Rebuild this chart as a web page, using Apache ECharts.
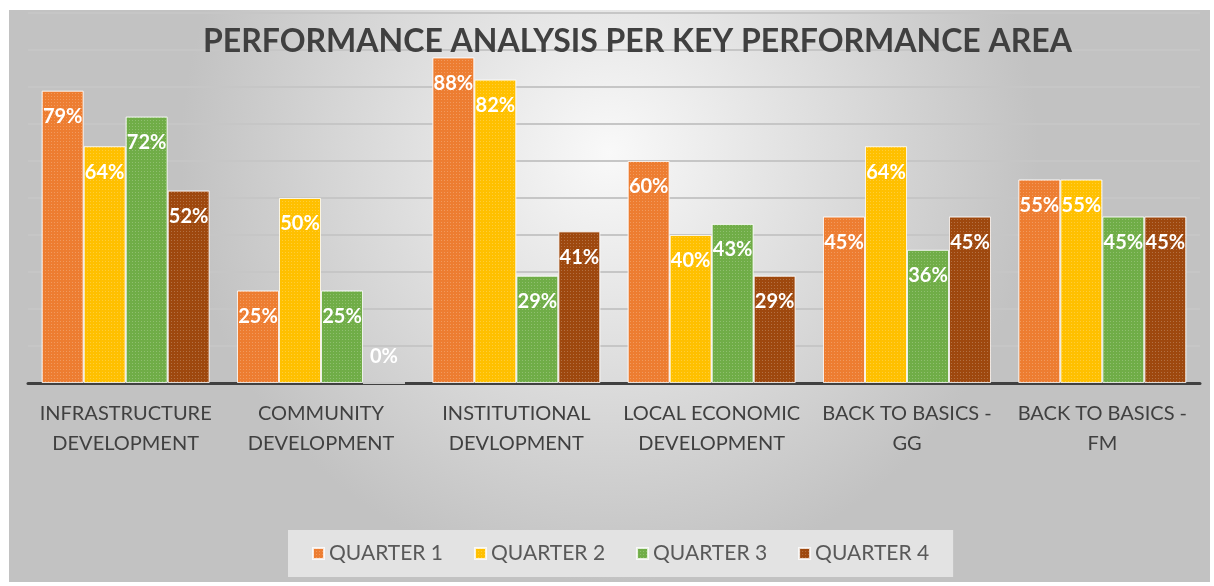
<!DOCTYPE html>
<html>
<head>
<meta charset="utf-8">
<title>Performance Analysis per KPA</title>
<script src="https://cdn.jsdelivr.net/npm/echarts@6/dist/echarts.min.js"></script>
<style>
  html, body { margin: 0; padding: 0; background: #ffffff; }
  #chart { width: 1214px; height: 586px; }
</style>
</head>
<body>
<div id="chart"></div>
<script>
// categories (note: "DEVLOPMENT" spelled as in the source)
const categories = [
    "INFRASTRUCTURE\nDEVELOPMENT",
    "COMMUNITY\nDEVELOPMENT",
    "INSTITUTIONAL\nDEVLOPMENT",
    "LOCAL ECONOMIC\nDEVELOPMENT",
    "BACK TO BASICS -\nGG",
    "BACK TO BASICS -\nFM"
];

const quarter1 = [79, 25, 88, 60, 45, 55];
const quarter2 = [64, 50, 82, 40, 64, 55];
const quarter3 = [72, 25, 29, 43, 36, 45];
const quarter4 = [52, 0, 41, 29, 45, 45];

const seriesNames = ["QUARTER 1", "QUARTER 2", "QUARTER 3", "QUARTER 4"];
const colors = ["#ED7D31", "#FFC000", "#70AD47", "#9E480E"];

const chart = echarts.init(document.getElementById("chart"));

function makeSeries(name, values, color) {
    return {
        name: name,
        type: "bar",
        barGap: "0%",
        barCategoryGap: "14%",
        itemStyle: {
            color: color,
            borderColor: "rgba(255,255,255,0.55)",
            borderWidth: 1,
            decal: {
                symbol: "rect",
                symbolSize: 1,
                color: "rgba(255,255,255,0.22)",
                dashArrayX: [[1, 2]],
                dashArrayY: [1, 2]
            }
        },
        label: {
            show: true,
            position: "insideTop",
            distance: 16,
            color: "#ffffff",
            fontFamily: "Lato",
            fontWeight: "bold",
            fontSize: 20,
            formatter: p => p.value + "%"
        },
        // a zero bar keeps its label sitting above the axis
        data: values.map(v => v === 0
            ? { value: v, label: { position: "top", distance: 16 } }
            : v)
    };
}

chart.setOption({
    textStyle: { fontFamily: "Lato" },
    graphic: [{
        type: "rect",
        z: -10,
        shape: { x: 9, y: 10, width: 1201, height: 572 },
        style: {
            fill: {
                type: "radial",
                x: 0.5, y: 0.25, r: 0.75,
                colorStops: [
                    { offset: 0, color: "#f9f9f9" },
                    { offset: 1, color: "#c2c2c2" }
                ]
            }
        },
        silent: true
    }],
    title: {
        text: "PERFORMANCE ANALYSIS PER KEY PERFORMANCE AREA",
        left: 198,
        top: 21,
        textStyle: {
            fontFamily: "Lato",
            fontWeight: "bold",
            fontSize: 32,
            color: "#404040"
        }
    },
    legend: {
        bottom: 9,
        left: 288,
        data: seriesNames,
        icon: "rect",
        itemWidth: 11,
        itemHeight: 11,
        itemGap: 31,
        padding: [13, 24, 13, 24],
        backgroundColor: "#e3e3e3",
        textStyle: {
            fontFamily: "Lato",
            fontSize: 21,
            color: "#595959"
        }
    },
    grid: {
        left: 28,
        right: 14,
        top: 13,
        bottom: 203,
        containLabel: false
    },
    xAxis: {
        type: "category",
        data: categories,
        axisTick: { show: false },
        axisLine: { lineStyle: { color: "#404040", width: 3 } },
        axisLabel: {
            margin: 16,
            fontFamily: "Lato",
            fontSize: 20,
            lineHeight: 30,
            color: "#404040",
            interval: 0
        }
    },
    yAxis: {
        type: "value",
        min: 0,
        max: 100,
        interval: 10,
        axisLabel: { show: false },
        axisLine: { show: false },
        axisTick: { show: false },
        splitLine: { lineStyle: { color: "#c6c6c6", width: 2 } }
    },
    color: colors,
    series: [
        makeSeries(seriesNames[0], quarter1, colors[0]),
        makeSeries(seriesNames[1], quarter2, colors[1]),
        makeSeries(seriesNames[2], quarter3, colors[2]),
        makeSeries(seriesNames[3], quarter4, colors[3])
    ]
});
</script>
</body>
</html>
